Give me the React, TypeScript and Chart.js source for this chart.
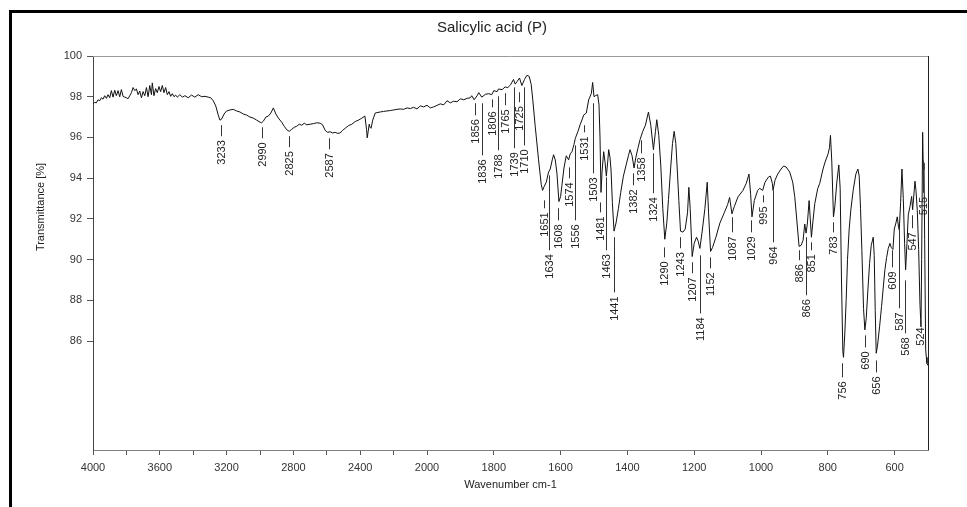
import React, { useEffect, useRef } from "react";
import { Chart, registerables } from "chart.js";

Chart.register(...registerables);

// ---- Data (wavenumber cm-1, transmittance %) ----
const spectrumNoisy: [number, number][] = [
  [4000, 97.66], [3990, 97.72], [3980, 97.7], [3970, 97.85], [3960, 97.8], [3950, 97.95],
  [3940, 97.88], [3930, 98.05], [3920, 97.92], [3910, 98.1], [3900, 97.95], [3890, 98.3],
  [3880, 97.98], [3870, 98.32], [3860, 98.05], [3850, 98.3], [3840, 98.0], [3830, 98.35],
  [3820, 98.02], [3810, 97.98], [3800, 97.95], [3790, 97.9], [3780, 98.05], [3770, 98.2],
  [3760, 98.45], [3750, 98.3], [3740, 98.38], [3730, 98.1], [3720, 98.28], [3710, 97.95],
  [3700, 98.25], [3690, 98.05], [3680, 98.45], [3670, 98.0], [3660, 98.55], [3650, 98.1],
  [3645, 98.68], [3635, 98.05], [3625, 98.4], [3615, 98.2], [3605, 98.5], [3595, 98.25],
  [3585, 98.55], [3575, 98.2], [3565, 98.45], [3555, 98.1], [3545, 98.25], [3535, 98.02],
  [3525, 98.15], [3515, 98.0], [3505, 98.08], [3495, 97.98], [3480, 98.1], [3465, 97.98],
  [3450, 98.05], [3430, 97.95], [3410, 98.08], [3390, 97.98], [3370, 98.1], [3350, 98.0],
  [3330, 98.02], [3310, 97.98], [3295, 97.95],
];

const spectrumHigh: [number, number][] = [
  [3280, 97.8], [3265, 97.55], [3250, 97.1], [3240, 96.85], [3230, 96.9], [3215, 97.15],
  [3200, 97.3], [3180, 97.35], [3160, 97.38], [3140, 97.3], [3120, 97.25], [3100, 97.15],
  [3080, 97.1], [3060, 97.0], [3040, 96.95], [3020, 96.85], [3000, 96.75], [2990, 96.72],
  [2980, 96.8], [2965, 97.0], [2950, 97.05], [2935, 97.2], [2920, 97.45], [2905, 97.15],
  [2890, 96.95], [2870, 96.75], [2855, 96.55], [2840, 96.38], [2825, 96.3], [2810, 96.4],
  [2795, 96.5], [2780, 96.55], [2765, 96.65], [2750, 96.6], [2735, 96.7], [2720, 96.62],
  [2700, 96.65], [2680, 96.68], [2660, 96.72], [2640, 96.7], [2625, 96.62], [2610, 96.35],
  [2595, 96.25], [2580, 96.28], [2565, 96.22], [2550, 96.25], [2535, 96.2], [2520, 96.22],
  [2505, 96.35], [2490, 96.45], [2470, 96.58], [2450, 96.65], [2430, 96.78], [2410, 96.85],
  [2390, 96.95], [2372, 97.05], [2362, 96.4], [2358, 95.98], [2352, 96.3], [2346, 96.65],
  [2341, 96.5], [2335, 96.45], [2325, 96.85], [2310, 97.2], [2300, 97.22], [2280, 97.25],
  [2260, 97.28], [2240, 97.3], [2220, 97.32], [2200, 97.35], [2180, 97.38], [2160, 97.4],
  [2140, 97.38], [2120, 97.45], [2100, 97.42], [2080, 97.48], [2060, 97.4], [2040, 97.55],
  [2020, 97.5], [2000, 97.58],
];

const spectrumCarbonyl: [number, number][] = [
  [1990, 97.45], [1980, 97.5], [1960, 97.65], [1950, 97.6], [1940, 97.8], [1930, 97.7],
  [1920, 97.78], [1910, 97.75], [1900, 97.9], [1890, 97.85], [1880, 97.92], [1870, 97.95],
  [1866, 98.05], [1859, 97.85], [1850, 98.05], [1845, 98.2], [1836, 97.98], [1825, 98.12],
  [1815, 98.15], [1806, 98.1], [1800, 98.3], [1790, 98.25], [1786, 98.38], [1775, 98.35],
  [1766, 98.48], [1758, 98.45], [1750, 98.58], [1741, 98.85], [1736, 98.62], [1730, 98.75],
  [1723, 98.92], [1716, 98.55], [1708, 98.85], [1701, 99.05], [1694, 99.0], [1688, 98.6],
  [1683, 97.8], [1676, 96.55], [1666, 94.9], [1658, 93.7], [1654, 93.4], [1649, 93.6],
  [1643, 93.8], [1636, 94.3], [1631, 94.45], [1625, 94.9], [1621, 95.15], [1616, 94.9],
  [1611, 94.25], [1605, 92.85], [1600, 93.1], [1596, 93.65], [1590, 94.5], [1583, 95.1],
  [1576, 94.9], [1571, 95.2], [1566, 95.3], [1560, 95.65], [1556, 95.95], [1548, 96.3],
  [1541, 96.65], [1534, 96.95], [1531, 97.1], [1523, 97.2], [1516, 97.85], [1508, 98.15],
  [1504, 98.7], [1500, 98.0], [1496, 98.05], [1489, 98.1], [1485, 97.6], [1482, 96.0],
  [1479, 93.3], [1476, 94.3], [1471, 95.3], [1467, 94.8], [1463, 94.1], [1459, 94.8],
  [1456, 95.4], [1452, 95.0], [1449, 94.4], [1445, 92.8], [1440, 91.4], [1434, 91.8],
  [1427, 92.5], [1420, 93.3], [1412, 94.1], [1403, 94.7],
];

const spectrumFingerprint: [number, number][] = [
  [1397, 95.1], [1392, 95.4], [1386, 95.1], [1380, 94.5], [1375, 95.0], [1368, 95.5],
  [1362, 95.9], [1354, 96.3], [1346, 96.6], [1337, 97.25], [1330, 96.6], [1322, 95.4],
  [1316, 96.3], [1312, 96.87], [1306, 96.1], [1300, 94.6], [1294, 92.5], [1288, 91.0],
  [1282, 91.8], [1277, 92.95], [1270, 94.6], [1265, 95.7], [1260, 96.3], [1255, 95.7],
  [1250, 94.2], [1246, 92.9], [1241, 91.4], [1234, 91.35], [1227, 91.5], [1220, 92.3],
  [1216, 93.55], [1212, 92.5], [1206, 90.15], [1200, 90.8], [1193, 91.1], [1188, 90.9],
  [1183, 90.55], [1176, 91.4], [1168, 92.5], [1161, 93.8], [1157, 92.3], [1151, 90.4],
  [1145, 90.6], [1135, 91.1], [1123, 91.8], [1110, 92.3], [1100, 92.7], [1094, 93.05],
  [1087, 92.25], [1080, 92.6], [1069, 93.08], [1054, 93.4], [1044, 93.75], [1036, 94.2],
  [1031, 93.2], [1027, 92.1], [1020, 92.9], [1010, 93.4], [1004, 93.5], [995, 93.4],
  [988, 93.8], [978, 94.05], [972, 94.1], [966, 93.75], [964, 93.4], [958, 93.9],
  [950, 94.2], [940, 94.45], [932, 94.6], [925, 94.55], [914, 94.3], [905, 93.8],
];

const spectrumLow: [number, number][] = [
  [899, 93.1], [892, 91.8], [886, 90.65], [880, 90.7], [874, 90.95], [869, 91.75],
  [865, 91.3], [861, 91.8], [856, 92.9], [849, 91.1], [845, 91.8], [839, 92.75],
  [830, 93.5], [824, 93.75], [815, 94.4], [809, 94.75], [799, 95.2], [795, 95.5],
  [792, 96.1], [788, 94.8], [783, 92.1], [779, 92.6], [773, 93.8], [767, 94.65],
  [763, 93.5], [759, 89.0], [755, 85.5], [753, 85.2], [749, 86.4], [745, 88.0],
  [741, 90.0], [736, 91.5], [731, 92.45], [724, 93.4], [716, 94.2], [710, 94.45],
  [706, 94.1], [702, 92.5], [698, 90.45], [693, 87.6], [689, 86.55], [685, 87.1],
  [680, 88.5], [675, 89.8], [670, 90.7], [664, 91.1], [661, 90.2], [658, 87.5],
  [655, 85.4], [651, 85.8], [645, 86.7], [639, 87.7], [633, 88.8], [629, 89.5],
  [624, 90.1], [619, 90.55], [614, 90.8], [610, 90.6], [605, 90.5], [601, 91.5],
  [596, 91.8], [592, 92.1], [589, 91.7], [586, 91.45], [582, 92.8], [578, 94.45],
  [574, 93.0], [570, 90.8], [567, 89.5], [563, 90.8], [559, 92.2], [554, 92.6],
  [549, 93.1], [546, 92.45], [539, 93.85], [536, 93.4], [532, 92.4], [528, 90.5],
  [524, 87.8], [521, 86.7], [519, 90.0], [516, 96.25], [514, 94.4], [512, 94.75],
  [510, 91.0], [507, 85.6], [505, 85.2], [503, 84.9], [500, 84.8],
];

// Peak annotations: [wavenumber, label line top (T %), label line bottom (T %)]
const peakLabels: [number, number, number][] = [
  [3233, 96.6, 96.06], [2990, 96.5, 95.96], [2825, 96.06, 95.52], [2587, 95.96, 95.42],
  [1856, 97.68, 97.09], [1836, 97.68, 95.12], [1806, 97.87, 97.48], [1788, 98.02, 95.37],
  [1765, 98.17, 97.58], [1739, 98.46, 95.47], [1725, 98.22, 97.73], [1710, 98.46, 95.61],
  [1651, 92.91, 92.52], [1634, 94.14, 90.46], [1608, 92.52, 91.93], [1574, 94.53, 93.99],
  [1556, 95.61, 91.93], [1531, 96.6, 96.25], [1503, 97.68, 94.24], [1481, 92.81, 92.32],
  [1463, 94.04, 90.46], [1441, 91.1, 88.39], [1382, 94.24, 93.65], [1358, 95.86, 95.22],
  [1324, 95.22, 93.26], [1290, 90.6, 90.11], [1243, 91.1, 90.56], [1207, 89.87, 89.33],
  [1184, 90.21, 87.36], [1152, 90.11, 89.57], [1087, 92.08, 91.34], [1029, 91.93, 91.34],
  [995, 93.16, 92.81], [964, 93.4, 90.85], [886, 90.46, 89.97], [866, 91.1, 88.25],
  [851, 90.85, 90.46], [783, 91.83, 91.34], [756, 84.91, 84.22], [690, 86.28, 85.69],
  [656, 85.05, 84.46], [609, 90.46, 89.62], [587, 91.59, 87.61], [568, 88.98, 86.38],
  [547, 92.18, 91.54], [524, 87.17, 86.87], [515, 94.87, 93.28],
];

const xTickValues = [4000, 3800, 3600, 3400, 3200, 3000, 2800, 2600, 2400, 2200, 2000,
  1800, 1600, 1400, 1200, 1000, 800, 600];
const xTickLabels = [4000, 3600, 3200, 2800, 2400, 2000, 1800, 1600, 1400, 1200, 1000, 800, 600];
const yTickValues = [86, 88, 90, 92, 94, 96, 98, 100];

const TITLE = "Salicylic acid (P)";
const X_TITLE = "Wavenumber cm-1";
const Y_TITLE = "Transmittance [%]";

// Axis with scale change at 2000 cm-1 (range above 2000 compressed by half)
const BREAK = 2000;
const toU = (w: number) => (w >= BREAK ? (4000 - w) / 2 : (4000 - BREAK) / 2 + (BREAK - w));
const fromU = (u: number) => (u <= (4000 - BREAK) / 2 ? 4000 - 2 * u : BREAK - (u - (4000 - BREAK) / 2));

const FONT = '"Liberation Sans", Arial, Helvetica, sans-serif';

const allSpectrum = [
  ...spectrumNoisy,
  ...spectrumHigh,
  ...spectrumCarbonyl,
  ...spectrumFingerprint,
  ...spectrumLow,
];

const decorPlugin = {
  id: "decor",
  beforeDraw(chart: any) {
    const ctx = chart.ctx;
    ctx.save();
    ctx.fillStyle = "#ffffff";
    ctx.fillRect(0, 0, chart.width, chart.height);
    ctx.fillStyle = "#000000";
    ctx.fillRect(9, 10, chart.width, 3);
    ctx.fillRect(9, 10, 3, chart.height);
    ctx.restore();
  },
  afterDraw(chart: any) {
    const ctx = chart.ctx;
    const { left, right, top, bottom } = chart.chartArea;
    const xs = chart.scales.x;
    const ys = chart.scales.y;
    ctx.save();
    // plot frame top & right
    ctx.lineWidth = 1;
    ctx.strokeStyle = "#9a9a9a";
    ctx.beginPath();
    ctx.moveTo(left, top + 0.5);
    ctx.lineTo(right, top + 0.5);
    ctx.stroke();
    ctx.strokeStyle = "#222222";
    ctx.beginPath();
    ctx.moveTo(right + 0.5, top);
    ctx.lineTo(right + 0.5, bottom);
    ctx.stroke();

    // peak labels
    ctx.fillStyle = "#222222";
    ctx.strokeStyle = "#333333";
    ctx.font = `11px ${FONT}`;
    for (const [w, t1, t2] of peakLabels) {
      const x = Math.round(xs.getPixelForValue(toU(w))) + 0.5;
      const y1 = ys.getPixelForValue(t1);
      const y2 = ys.getPixelForValue(t2);
      ctx.beginPath();
      ctx.moveTo(x, y1);
      ctx.lineTo(x, y2);
      ctx.stroke();
      ctx.save();
      ctx.translate(x, y2 + 4);
      ctx.rotate(-Math.PI / 2);
      ctx.textAlign = "right";
      ctx.textBaseline = "middle";
      ctx.fillText(String(w), 0, 0);
      ctx.restore();
    }

    // titles
    ctx.fillStyle = "#222222";
    ctx.textAlign = "center";
    ctx.textBaseline = "middle";
    ctx.font = `15px ${FONT}`;
    ctx.fillText(TITLE, 492, 28);
    ctx.font = `11px ${FONT}`;
    ctx.fillText(X_TITLE, (left + right) / 2, 485);
    ctx.save();
    ctx.translate(40.5, 207);
    ctx.rotate(-Math.PI / 2);
    ctx.fillText(Y_TITLE, 0, 0);
    ctx.restore();
    ctx.restore();
  },
};

export default function App() {
  const ref = useRef<HTMLCanvasElement | null>(null);

  useEffect(() => {
    if (!ref.current) return;
    const chart = new Chart(ref.current, {
      type: "line",
      data: {
        datasets: [
          {
            data: allSpectrum.map(([w, t]) => ({ x: toU(w), y: t })),
            borderColor: "#111111",
            borderWidth: 1,
            pointRadius: 0,
            tension: 0,
            fill: false,
          },
        ],
      },
      options: {
        animation: false,
        responsive: false,
        devicePixelRatio: 1,
        parsing: false as any,
        layout: { padding: { left: 0, right: 39, top: 56, bottom: 0 } },
        plugins: {
          legend: { display: false },
          title: { display: false },
          tooltip: { enabled: false },
        },
        scales: {
          x: {
            type: "linear",
            min: toU(4000),
            max: toU(500),
            afterFit: (s: any) => {
              s.height = 57;
            },
            afterBuildTicks: (s: any) => {
              s.ticks = xTickValues.map((w) => ({ value: toU(w) }));
            },
            ticks: {
              autoSkip: false,
              maxRotation: 0,
              padding: 6,
              color: "#333333",
              font: { family: FONT, size: 11 },
              callback: (v: any) => {
                const w = Math.round(fromU(Number(v)));
                return xTickLabels.includes(w) ? String(w) : "";
              },
            },
            grid: { drawOnChartArea: false, drawTicks: true, tickLength: 5, color: "#555555" },
            border: { display: true, color: "#808080", width: 1 },
          },
          y: {
            type: "linear",
            min: 80.65,
            max: 100,
            afterFit: (s: any) => {
              s.width = 93;
            },
            afterBuildTicks: (s: any) => {
              s.ticks = yTickValues.map((v) => ({ value: v }));
            },
            ticks: {
              autoSkip: false,
              padding: 5,
              color: "#333333",
              font: { family: FONT, size: 11 },
              callback: (v: any) => String(v),
            },
            grid: { drawOnChartArea: false, drawTicks: true, tickLength: 6, color: "#555555" },
            border: { display: true, color: "#444444", width: 1 },
          },
        },
      },
      plugins: [decorPlugin],
    });
    return () => chart.destroy();
  }, []);

  return (
    <div
      style={{
        position: "fixed",
        left: 0,
        top: 0,
        width: 967,
        height: 507,
        overflow: "hidden",
        background: "#fff",
      }}
    >
      <canvas ref={ref} width={967} height={507} style={{ display: "block", width: 967, height: 507 }} />
    </div>
  );
}
